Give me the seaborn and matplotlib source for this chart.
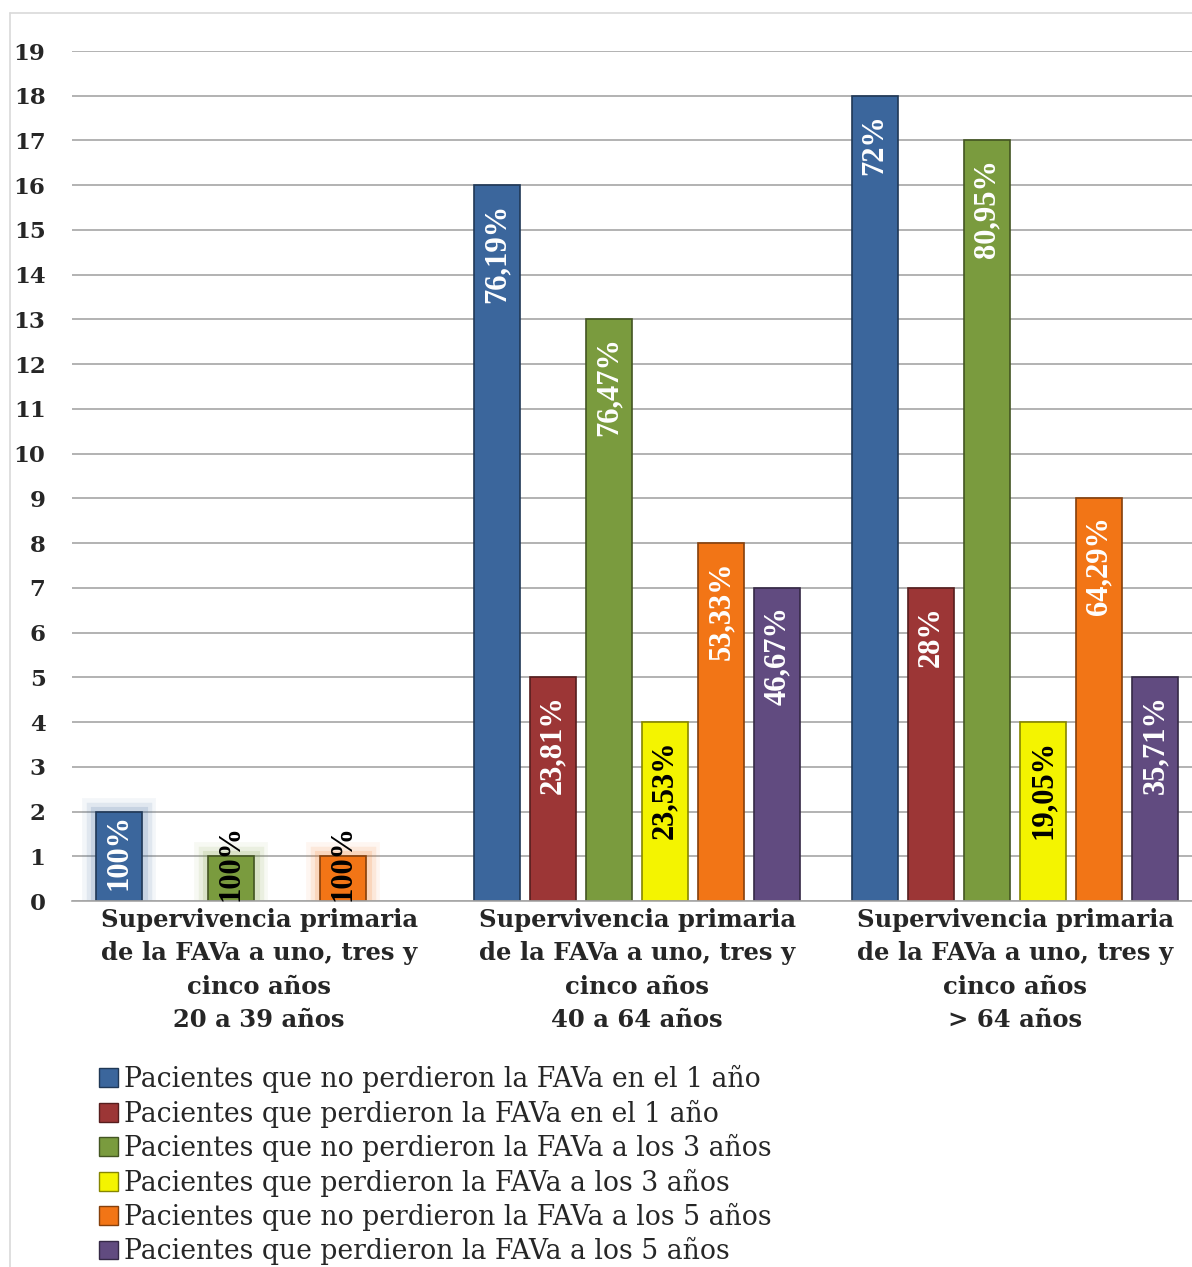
import matplotlib
matplotlib.use('Agg')
import matplotlib.pyplot as plt
import matplotlib.colors as mcolors
import matplotlib.patheffects as pe
from matplotlib.patches import Patch
from matplotlib.lines import Line2D
import seaborn as sns
import pandas as pd

# Datos
grupos = ['Supervivencia primaria\nde la FAVa a uno, tres y\ncinco años\n20 a 39 años',
          'Supervivencia primaria\nde la FAVa a uno, tres y\ncinco años\n40 a 64 años',
          'Supervivencia primaria\nde la FAVa a uno, tres y\ncinco años\n> 64 años']
series = ['Pacientes que no perdieron la FAVa en el 1 año',
          'Pacientes que perdieron la FAVa en el 1 año',
          'Pacientes que no perdieron la FAVa a los 3 años',
          'Pacientes que perdieron la FAVa a los 3 años',
          'Pacientes que no perdieron la FAVa a los 5 años',
          'Pacientes que perdieron la FAVa a los 5 años']
no_perdieron_1 = [2, 16, 18]
perdieron_1 = [0, 5, 7]
no_perdieron_3 = [1, 13, 17]
perdieron_3 = [0, 4, 4]
no_perdieron_5 = [1, 8, 9]
perdieron_5 = [0, 7, 5]
etiq_no_perdieron_1 = ['100%', '76,19%', '72%']
etiq_perdieron_1 = ['', '23,81%', '28%']
etiq_no_perdieron_3 = ['100%', '76,47%', '80,95%']
etiq_perdieron_3 = ['', '23,53%', '19,05%']
etiq_no_perdieron_5 = ['100%', '53,33%', '64,29%']
etiq_perdieron_5 = ['', '46,67%', '35,71%']
y_ticks = list(range(0, 20))

valores = [no_perdieron_1, perdieron_1, no_perdieron_3, perdieron_3, no_perdieron_5, perdieron_5]
etiquetas = [etiq_no_perdieron_1, etiq_perdieron_1, etiq_no_perdieron_3,
             etiq_perdieron_3, etiq_no_perdieron_5, etiq_perdieron_5]
colores = ['#3B669C', '#9C3636', '#7A9B3E', '#F4F400', '#F27516', '#614B80']
color_texto = ['white', 'white', 'white', 'black', 'white', 'white']

rows = []
for s, vals in zip(series, valores):
    for g, v in zip(grupos, vals):
        rows.append({'grupo': g, 'serie': s, 'valor': v})
df = pd.DataFrame(rows)

sns.set_style('white')
plt.rcParams['font.family'] = ['DejaVu Serif']

W, H = 1192, 1267
fig = plt.figure(figsize=(W / 100, H / 100), dpi=100)
ax = fig.add_axes([72 / W, (H - 901) / H, (W - 72) / W, 850 / H])

sns.barplot(data=df, x='grupo', y='valor', hue='serie', order=grupos, hue_order=series,
            palette=colores, width=0.89, gap=0.18, saturation=1, legend=False, ax=ax)

# Bordes, halo del primer grupo y etiquetas dentro de las barras
for cont, col, col_txt, labs in zip(ax.containers, colores, color_texto, etiquetas):
    dark = [c * 0.55 for c in mcolors.to_rgb(col)]
    for i, (bar, lab) in enumerate(zip(cont.patches, labs)):
        h = bar.get_height()
        if h == 0:
            bar.set_visible(False)
            continue
        bar.set_edgecolor(dark)
        bar.set_linewidth(1.2)
        if i == 0:
            bar.set_path_effects([pe.Stroke(linewidth=20, foreground=col, alpha=0.06),
                                  pe.Stroke(linewidth=14, foreground=col, alpha=0.1),
                                  pe.Stroke(linewidth=8, foreground=col, alpha=0.15),
                                  pe.Normal()])
        x = bar.get_x() + bar.get_width() / 2
        if h >= 2:
            off = -13 if h > 3 else -2
            ax.annotate(lab, (x, h), xytext=(0, off), textcoords='offset points',
                        rotation=90, ha='center', va='top', color=col_txt,
                        fontsize=22, fontweight='bold', family='Liberation Serif')
        else:
            ax.annotate(lab, (x, 0), xytext=(0, 0), textcoords='offset points',
                        rotation=90, ha='center', va='bottom', color='black',
                        fontsize=22, fontweight='bold', family='Liberation Serif',
                        annotation_clip=False)

ax.set_xlim(-0.495, 2.468)
ax.set_ylim(0, 19)
ax.set_yticks(y_ticks)
ax.yaxis.grid(True, color='#A6A6A6', linewidth=1.2)
ax.set_axisbelow(True)
for s in ['top', 'right', 'left']:
    ax.spines[s].set_visible(False)
ax.spines['bottom'].set_color('#A6A6A6')
ax.spines['bottom'].set_linewidth(1.2)
ax.tick_params(axis='y', length=0, pad=19, labelsize=16.5)
ax.tick_params(axis='x', length=0, pad=5, labelsize=17.5)
for t in ax.get_yticklabels():
    t.set_fontweight('bold')
for t in ax.get_xticklabels():
    t.set_fontweight('bold')
    t.set_linespacing(1.5)
ax.set_xlabel('')
ax.set_ylabel('')

handles = [Patch(facecolor=c, edgecolor=[v * 0.55 for v in mcolors.to_rgb(c)]) for c in colores]
fig.legend(handles, series, loc='upper left', bbox_to_anchor=(99 / W, 1 - 1065 / H),
           frameon=False, fontsize=19.2, handlelength=0.7, handleheight=0.7,
           handletextpad=0.25, labelspacing=0.24, borderpad=0, borderaxespad=0)

# Marco del area del grafico
fig.add_artist(Line2D([10 / W, 10 / W], [0, 1 - 13 / H], transform=fig.transFigure,
                      color='#D9D9D9', linewidth=1.2))
fig.add_artist(Line2D([10 / W, 1], [1 - 13 / H, 1 - 13 / H], transform=fig.transFigure,
                      color='#D9D9D9', linewidth=1.2))

fig.savefig('out.png', dpi=100)
